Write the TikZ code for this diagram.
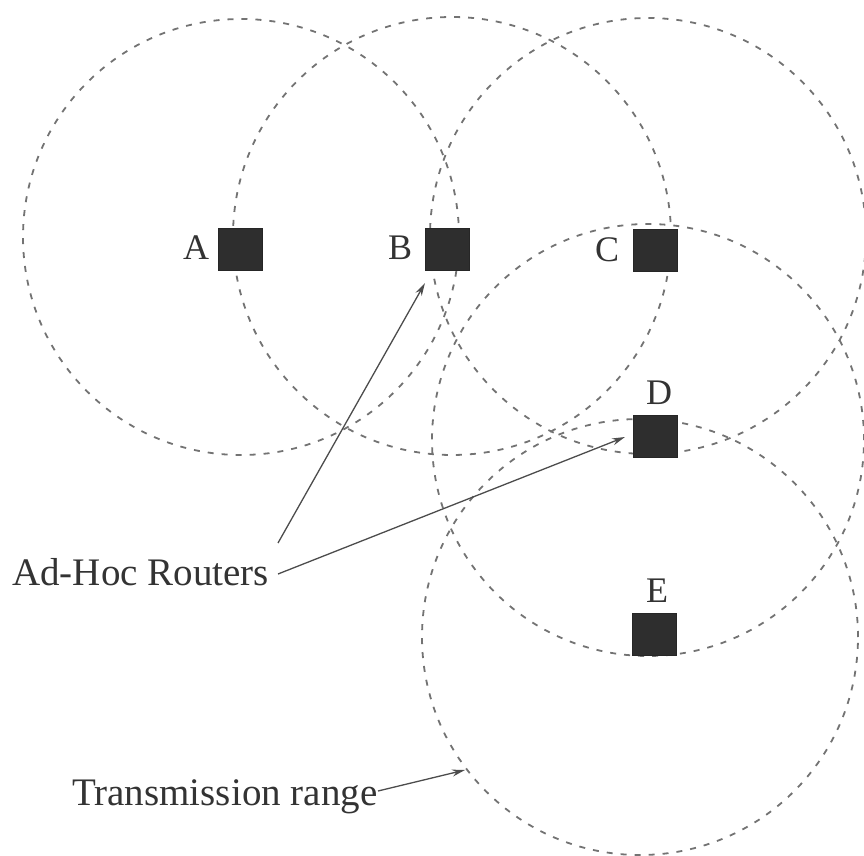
\documentclass[tikz,border=0pt]{standalone}
\usepackage{fontspec}
\setmainfont{Liberation Serif}
\usetikzlibrary{arrows.meta}
\begin{document}
\begin{tikzpicture}[x=1pt,y=1pt,
  txrange/.style={draw=black!55, line width=1.8pt, dash pattern=on 6pt off 8pt},
  routerbox/.style={draw=black!85, fill=black!82, minimum width=44pt, minimum height=42pt, inner sep=0pt},
  routerlbl/.style={font=\fontsize{36}{36}\selectfont, text=black!80, inner sep=0pt},
  capt/.style={font=\fontsize{39}{39}\selectfont, text=black!80, inner sep=0pt, anchor=west},
  ptr/.style={draw=black!70, line width=1.3pt, -{Stealth[length=13pt,width=7pt]}}]
\useasboundingbox (0,0) rectangle (864,855);

% transmission ranges
\draw[txrange] (241,618) circle[radius=218];
\draw[txrange] (452,619) circle[radius=219];
\draw[txrange] (648,619) circle[radius=218];
\draw[txrange] (648,415) circle[radius=216];
\draw[txrange] (640,218) circle[radius=218];

% routers
\node[routerbox] (A) at (240,606) {};
\node[routerbox] (B) at (447,606) {};
\node[routerbox] (C) at (655,605) {};
\node[routerbox] (D) at (655,419) {};
\node[routerbox] (E) at (654,221) {};

\node[routerlbl] (la) at (196,607) {A};
\node[routerlbl] (lb) at (400,607) {B};
\node[routerlbl] (lc) at (607,605) {C};
\node[routerlbl] (ld) at (659,462) {D};
\node[routerlbl] (le) at (657,264) {E};

% captions
\node[capt] (ahr) at (12,283) {Ad-Hoc Routers};
\node[capt] (trg) at (72,58) {Transmission range};

\coordinate (t1) at (278,312);
\coordinate (t2) at (278,281);
\coordinate (t3) at (378,64);
\coordinate (h1) at (425,572);
\coordinate (h2) at (625,418);
\coordinate (h3) at (465,85);

\draw[ptr] (t1) -- (h1);
\draw[ptr] (t2) -- (h2);
\draw[ptr] (t3) -- (h3);
\end{tikzpicture}
\end{document}
